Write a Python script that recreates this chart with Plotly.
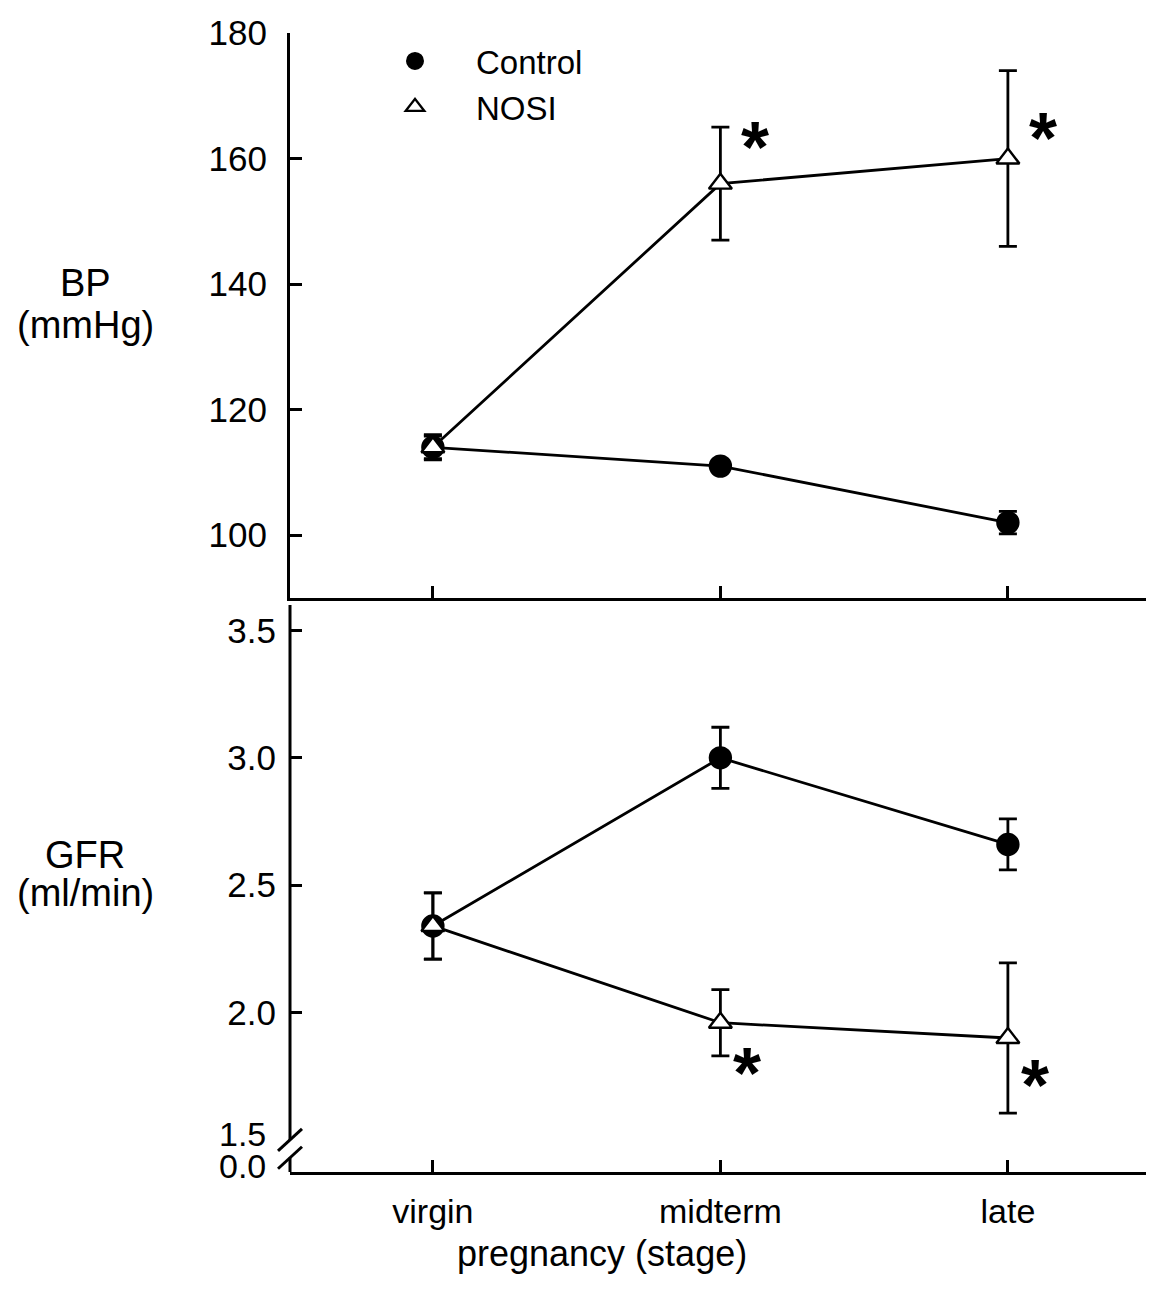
import plotly.graph_objects as go

stages = ["virgin", "midterm", "late"]

bp_control = [114, 111, 102]
bp_control_err = [1.8, 0.5, 1.8]
bp_nosi = [114, 156, 160]
bp_nosi_err = [2.0, 9.0, 14.0]

gfr_control = [2.34, 3.00, 2.66]
gfr_control_err = [0.13, 0.12, 0.10]
gfr_nosi = [2.34, 1.96, 1.90]
gfr_nosi_err = [0.13, 0.13, 0.295]

bp_ticks = [100, 120, 140, 160, 180]
gfr_ticks = [2.0, 2.5, 3.0, 3.5]
GFR_ZERO_POS = 1.374  # axis position standing for 0.0 after the break

FONT = "Liberation Sans, Arial, sans-serif"
LW = 2.8
AXW = 3

# page geometry (page body has an 8px margin)
W, H = 1138, 1293
ML, MR, MT, MB = 282, 0, 25, 129
PW = W - ML - MR


def paper_x(win_x):
    return (win_x - 8 - ML) / PW


fig = go.Figure()


def add_series(x, y, err, xa, ya, symbol, fill, name):
    fig.add_trace(go.Scatter(
        x=x, y=y, xaxis=xa, yaxis=ya, mode="lines+markers", name=name,
        showlegend=False,
        line=dict(color="black", width=LW),
        marker=dict(symbol=symbol, size=21 if symbol == "circle" else 20,
                    color=fill, line=dict(color="black", width=2.4)),
        error_y=dict(type="data", array=err, visible=True, color="black",
                     thickness=LW, width=9),
    ))


add_series(stages, bp_control, bp_control_err, "x", "y", "circle", "black", "Control")
add_series(stages, bp_nosi, bp_nosi_err, "x", "y", "triangle-up", "white", "NOSI")
add_series(stages, gfr_control, gfr_control_err, "x2", "y2", "circle", "black", "Control")
add_series(stages, gfr_nosi, gfr_nosi_err, "x2", "y2", "triangle-up", "white", "NOSI")

# legend entries (markers only)
fig.add_trace(go.Scatter(x=[None], y=[None], mode="markers", name="Control",
                         marker=dict(symbol="circle", size=21, color="black",
                                     line=dict(color="black", width=2))))
fig.add_trace(go.Scatter(x=[None], y=[None], mode="markers", name="NOSI",
                         marker=dict(symbol="triangle-up", size=20, color="white",
                                     line=dict(color="black", width=2.4))))

xrange = [-0.497, -0.497 + PW / 287.5]
common_x = dict(type="category", range=xrange, showline=True, linecolor="black",
                linewidth=AXW, ticks="inside", ticklen=12, tickwidth=AXW,
                tickcolor="black", showgrid=False, zeroline=False,
                tickfont=dict(family=FONT, size=34, color="black"))

fig.update_layout(
    width=W, height=H,
    margin=dict(l=ML, r=MR, t=MT, b=MB, autoexpand=False),
    paper_bgcolor="white", plot_bgcolor="white",
    font=dict(family=FONT, color="black"),
    xaxis=dict(common_x, anchor="y", domain=[0, 1], showticklabels=False),
    yaxis=dict(domain=[0.504, 1.0], range=[90, 180], tickvals=bp_ticks,
               showline=True, linecolor="black", linewidth=AXW, ticks="inside",
               ticklen=12, tickwidth=AXW, tickcolor="black", showgrid=False,
               zeroline=False, ticklabelstandoff=13,
               tickfont=dict(family=FONT, size=35, color="black")),
    xaxis2=dict(common_x, anchor="y2", domain=[0, 1], ticklabelstandoff=7),
    yaxis2=dict(domain=[0.0, 0.4978], range=[GFR_ZERO_POS, 3.6],
                tickvals=gfr_ticks, ticktext=["2.0", "2.5", "3.0", "3.5"],
                showline=False, ticks="inside", ticklen=12, tickwidth=AXW,
                tickcolor="black", showgrid=False, zeroline=False,
                ticklabelstandoff=13,
                tickfont=dict(family=FONT, size=35, color="black")),
    legend=dict(x=paper_x(354), y=1.0, xanchor="left", yanchor="top",
                bgcolor="rgba(0,0,0,0)", itemwidth=112,
                font=dict(family=FONT, size=33, color="black"),
                tracegroupgap=0),
    showlegend=True,
)

# y-axis of the lower panel drawn with a break
shapes = [
    dict(type="line", xref="x2 domain", yref="y2", x0=0, x1=0, y0=1.5, y1=3.6,
         line=dict(color="black", width=AXW)),
    dict(type="line", xref="x2 domain", yref="y2", x0=0, x1=0, y0=GFR_ZERO_POS,
         y1=1.43, line=dict(color="black", width=AXW)),
]
for yc in (1.5, 1.43):
    shapes.append(dict(type="line", xref="x2 domain", yref="y2",
                       xsizemode="pixel", xanchor=0, x0=-12, x1=12,
                       ysizemode="pixel", yanchor=yc, y0=-11, y1=11,
                       line=dict(color="black", width=AXW)))
fig.update_layout(shapes=shapes)

ann = []
tickfont = dict(family=FONT, size=34, color="black")
ann.append(dict(xref="paper", yref="y2", x=paper_x(268), y=1.525, text="1.5",
                showarrow=False, xanchor="right", yanchor="middle", font=tickfont))
ann.append(dict(xref="paper", yref="y2", x=paper_x(268), y=GFR_ZERO_POS + 0.022,
                text="0.0", showarrow=False, xanchor="right", yanchor="middle",
                font=tickfont))

labfont = dict(family=FONT, size=38, color="black")
ann.append(dict(xref="paper", yref="y", x=paper_x(85), y=140.2, text="BP",
                showarrow=False, xanchor="center", yanchor="middle", font=labfont))
ann.append(dict(xref="paper", yref="y", x=paper_x(85), y=133.5, text="(mmHg)",
                showarrow=False, xanchor="center", yanchor="middle", font=labfont))
ann.append(dict(xref="paper", yref="y2", x=paper_x(85), y=2.62, text="GFR",
                showarrow=False, xanchor="center", yanchor="middle", font=labfont))
ann.append(dict(xref="paper", yref="y2", x=paper_x(85), y=2.47, text="(ml/min)",
                showarrow=False, xanchor="center", yanchor="middle", font=labfont))

ann.append(dict(xref="paper", yref="paper", x=paper_x(602), y=-0.0715,
                text="pregnancy (stage)", showarrow=False, xanchor="center",
                yanchor="middle", font=dict(family=FONT, size=36, color="black")))

# significance markers
starfont = dict(family=FONT, size=72, color="black")
for xa, ya, x, y, xs in [("x", "y", "midterm", 163.4, 35), ("x", "y", "late", 164.9, 35),
                         ("x2", "y2", "midterm", 1.80, 27), ("x2", "y2", "late", 1.756, 27)]:
    ann.append(dict(xref=xa, yref=ya, x=x, y=y, text="<b>*</b>", showarrow=False,
                    xanchor="center", yanchor="middle", xshift=xs, yshift=-10,
                    font=starfont))
fig.update_layout(annotations=ann)

fig.write_html("out.html")
